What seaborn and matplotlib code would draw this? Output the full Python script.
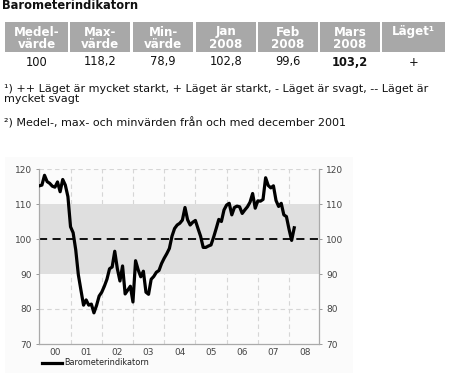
import matplotlib
matplotlib.use("Agg")
import matplotlib.pyplot as plt
from matplotlib.patches import Rectangle
from matplotlib.lines import Line2D
import numpy as np
import pandas as pd
import seaborn as sns

# ---------------- data ----------------
title = "Barometerindikatorn"
header_line1 = ["Medel-", "Max-", "Min-", "Jan", "Feb", "Mars", "Läget¹"]
header_line2 = ["värde", "värde", "värde", "2008", "2008", "2008", ""]
row_values = ["100", "118,2", "78,9", "102,8", "99,6", "103,2", "+"]
footnote1a = "¹) ++ Läget är mycket starkt, + Läget är starkt, - Läget är svagt, -- Läget är"
footnote1b = "mycket svagt"
footnote2 = "²) Medel-, max- och minvärden från och med december 2001"

values = [
    115.2, 115.4, 118.2, 116.4, 115.9, 115.1, 114.8, 116.3, 113.5, 117.0, 115.4, 112.1,
    103.5, 101.8, 96.9, 89.8, 85.4, 81.1, 82.6, 81.1, 81.4, 78.9, 81.0, 83.7,
    84.8, 86.5, 88.5, 91.5, 92.0, 96.5, 91.5, 88.0, 92.3, 84.3, 85.4, 86.5,
    82.0, 93.8, 91.2, 89.2, 90.8, 84.8, 84.2, 88.5, 89.3, 90.5, 91.0, 93.0,
    94.5, 95.8, 97.3, 100.8, 103.0, 104.0, 104.5, 105.4, 109.0, 105.5, 104.0, 104.8,
    105.3, 103.0, 100.8, 97.6, 97.6, 98.0, 98.3, 100.5, 103.0, 105.6, 105.0, 108.3,
    109.7, 110.2, 106.9, 109.0, 109.4, 109.2, 107.3, 108.3, 109.2, 110.5, 113.0, 108.8,
    110.9, 110.8, 111.3, 117.5, 115.3, 114.6, 115.2, 111.0, 109.3, 110.2, 106.9, 106.4,
    102.8, 99.6, 103.2,
]
dates = pd.date_range("2000-01-01", periods=len(values), freq="MS")
year_labels = ["00", "01", "02", "03", "04", "05", "06", "07", "08"]
y_ticks = [70, 80, 90, 100, 110, 120]
series_name = "Barometerindikatorn"

df = pd.DataFrame({
    "x": dates.year + (dates.month - 1) / 12.0,
    "value": values,
})

# ---------------- figure ----------------
W, H = 454, 375
fig = plt.figure(figsize=(W / 100, H / 100), dpi=100)
fig.patch.set_facecolor("white")


def P(x, y):
    return (x / W, 1 - y / H)


# faint chart background
fig.patches.append(Rectangle(P(5, 373), 348 / W, 216 / H, transform=fig.transFigure,
                             facecolor="#fbfbfb", edgecolor="none", zorder=-5))

# title
fig.text(*P(2, 9), title, fontsize=8.3, fontweight="bold", color="#111111",
         ha="left", va="baseline")

# table header
cells = [(5, 68), (70, 130), (133, 193), (196, 256), (258, 318), (320, 380), (382, 445)]
for (x0, x1), l1, l2, v in zip(cells, header_line1, header_line2, row_values):
    fig.patches.append(Rectangle(P(x0, 52), (x1 - x0) / W, 30 / H, transform=fig.transFigure,
                                 facecolor="#a8a8a8", edgecolor="none", zorder=-4))
    cx = (x0 + x1) / 2
    fig.text(*P(cx, 35.5), l1, fontsize=8.6, fontweight="bold", color="white",
             ha="center", va="baseline", zorder=2)
    if l2:
        fig.text(*P(cx, 48.3), l2, fontsize=8.6, fontweight="bold", color="white",
                 ha="center", va="baseline", zorder=2)
    fig.text(*P(cx, 65.5), v, fontsize=8.3, color="#111111", ha="center", va="baseline",
             fontweight="bold" if v == "103,2" else "normal")

fig.text(*P(4, 91.5), footnote1a, fontsize=8.0, color="#111111", ha="left", va="baseline")
fig.text(*P(4, 101.5), footnote1b, fontsize=8.0, color="#111111", ha="left", va="baseline")
fig.text(*P(4, 126), footnote2, fontsize=8.0, color="#111111", ha="left", va="baseline")

# ---------------- chart ----------------
ax = fig.add_axes([39 / W, 1 - 344 / H, 280 / W, 175 / H])
ax.set_zorder(5)
ax.set_facecolor("none")

ax.axhspan(90, 110, color="#dfdfdf", zorder=1, lw=0)
for yv in [80, 120]:
    ax.axhline(yv, color="#d6d6d6", lw=0.8, ls=(0, (4, 3)), zorder=0.5)
for yr in range(2001, 2009):
    ax.axvline(yr, color="#d6d6d6", lw=0.8, ls=(0, (4, 3)), zorder=0.5)
ax.axhline(100, color="black", lw=1.3, ls=(0, (4.5, 3)), zorder=2)

sns.lineplot(data=df, x="x", y="value", ax=ax, color="black", lw=2.3, zorder=3,
             legend=False)

ax.set_xlim(1999.99, 2008.96)
ax.set_ylim(70, 120)
ax.set_yticks(y_ticks)
ax.set_xticks([2000.5 + i for i in range(len(year_labels))])
ax.set_xticklabels(year_labels)
ax.set_xlabel("")
ax.set_ylabel("")

ax.tick_params(axis="y", which="both", left=True, right=True, labelleft=True, labelright=True,
               length=2, width=0.7, color="#999999", labelsize=6.5, labelcolor="#444444", pad=3)
ax.tick_params(axis="x", length=0, labelsize=6.5, labelcolor="#444444", pad=3)

for s in ["left", "right", "bottom"]:
    ax.spines[s].set_color("#aaaaaa")
    ax.spines[s].set_linewidth(0.9)
ax.spines["top"].set_visible(False)

# legend below chart
fig.lines.append(Line2D([42 / W, 62 / W], [1 - 362.5 / H] * 2, transform=fig.transFigure,
                        color="black", lw=2.3))
fig.text(*P(64, 362.5), series_name, fontsize=5.9, color="#222222", ha="left", va="center")

fig.savefig("out.png", dpi=100)
